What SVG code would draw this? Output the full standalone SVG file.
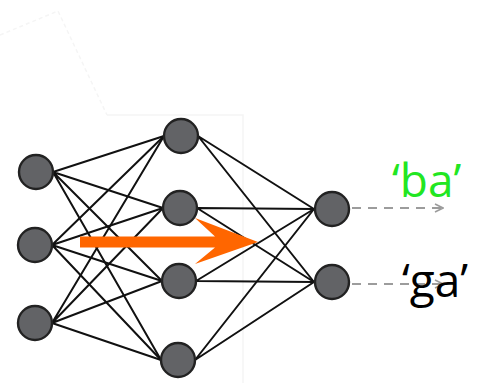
<svg xmlns="http://www.w3.org/2000/svg" width="481" height="383" viewBox="0 0 481 383">
  <defs>
    <style>
      .edge { stroke: #111; stroke-width: 2; fill: none; }
      .neuron { fill: #626366; stroke: #222; stroke-width: 2.4; }
      .out-line { stroke: #9c9c9c; stroke-width: 2.2; stroke-dasharray: 9 7; fill: none; }
      .frame { stroke: #f5f5f5; stroke-width: 1.5; fill: none; }
      .label { font-family: "Open Sans", "Liberation Sans", sans-serif; font-size: 46px; }
    </style>
    <marker id="chevron" viewBox="0 0 10 10" refX="9" refY="5" markerWidth="10" markerHeight="10" markerUnits="userSpaceOnUse" orient="auto">
      <path d="M1,1 L9,5 L1,9" fill="none" stroke="#9c9c9c" stroke-width="1.6"/>
    </marker>
  </defs>

  <rect width="481" height="383" fill="#ffffff"/>

  <!-- faint slide frame behind the network -->
  <g id="frame">
    <path class="frame" d="M0,35 L58,11 L107,115" stroke-dasharray="4 3"/>
    <path class="frame" d="M107,115 L243,115 L243,383"/>
  </g>

  <!-- weighted connections between layers -->
  <g id="connectors">
    <!-- input -> hidden -->
    <path class="edge" d="M53,172 L164,136 M53,172 L163,208 M53,172 L162,281 M53,172 L161,360"/>
    <path class="edge" d="M52,245 L164,136 M52,245 L163,208 M52,245 L162,281 M52,245 L161,360"/>
    <path class="edge" d="M52,323 L164,136 M52,323 L163,208 M52,323 L162,281 M52,323 L161,360"/>
    <!-- hidden -> output -->
    <path class="edge" d="M198,136 L314,209 M198,136 L314,282"/>
    <path class="edge" d="M197,208 L314,209 M197,208 L314,282"/>
    <path class="edge" d="M196,281 L314,209 M196,281 L314,282"/>
    <path class="edge" d="M195,360 L314,209 M195,360 L314,282"/>
    <!-- outputs -->
    <path class="out-line" d="M352,208 L443,208" marker-end="url(#chevron)"/>
    <path class="out-line" d="M352,284 L443,284" marker-end="url(#chevron)"/>
  </g>

  <!-- input layer -->
  <g id="in1"><circle class="neuron" cx="36" cy="172" r="17"/></g>
  <g id="in2"><circle class="neuron" cx="35" cy="245" r="17"/></g>
  <g id="in3"><circle class="neuron" cx="35" cy="323" r="17"/></g>

  <!-- hidden layer -->
  <g id="h1"><circle class="neuron" cx="181" cy="136" r="17"/></g>
  <g id="h2"><circle class="neuron" cx="180" cy="208" r="17"/></g>
  <g id="h3"><circle class="neuron" cx="179" cy="281" r="17"/></g>
  <g id="h4"><circle class="neuron" cx="178" cy="360" r="17"/></g>

  <!-- output layer -->
  <g id="out1"><circle class="neuron" cx="332" cy="209" r="17"/></g>
  <g id="out2"><circle class="neuron" cx="332" cy="282" r="17"/></g>

  <!-- forward-pass arrow -->
  <g id="flow-arrow">
    <path d="M80,236.5 L215,236.5 L195,218 L258,242 L195,264 L215,247.5 L80,247.5 Z" fill="#ff6600"/>
  </g>

  <!-- output labels -->
  <g id="label-ba"><text class="label" x="392" y="197" fill="#22e622">‘ba’</text></g>
  <g id="label-ga"><text class="label" x="402" y="297" fill="#000000">‘ga’</text></g>
</svg>
